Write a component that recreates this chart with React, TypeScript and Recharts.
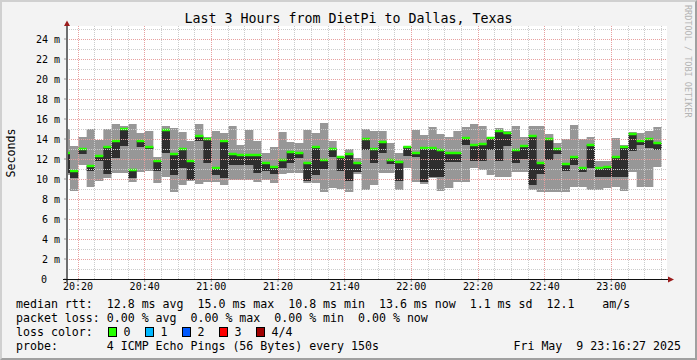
import React from 'react';
import { ComposedChart, Area, XAxis, YAxis, ReferenceLine } from 'recharts';

// sample times: minutes after 20:00, one probe round every 150 s
const FIRST_SAMPLE = 15.1;
const SAMPLE_STEP = 2.5;

// rtt in ms, one entry per probe round
const maxRtt = [
  15.0, 13.3, 14.2, 15.0, 13.9, 15.0, 15.5, 15.3, 15.5, 14.6,
  14.8, 12.2, 15.3, 15.1, 14.7, 13.8, 15.5, 14.2, 14.8, 14.6,
  15.3, 13.4, 14.9, 13.8, 12.6, 13.2, 14.7, 13.7, 13.6, 14.9,
  14.6, 15.6, 13.8, 12.3, 13.0, 12.1, 15.0, 14.8, 14.8, 13.6,
  12.6, 13.3, 14.9, 14.4, 15.2, 14.5, 14.2, 14.8, 15.2, 15.5,
  15.3, 14.2, 15.1, 14.8, 15.3, 14.2, 15.3, 15.3, 14.5, 13.6,
  14.0, 15.4, 14.0, 14.2, 11.8, 11.8, 14.1, 13.4, 14.7, 14.6,
  14.8, 15.2,
];
const medianRtt = [
  12.6, 10.8, 13.0, 11.3, 12.3, 13.2, 13.8, 15.0, 10.9, 13.8,
  13.2, 11.8, 14.9, 12.5, 13.0, 11.8, 14.3, 14.0, 11.1, 13.8,
  12.5, 12.4, 12.4, 12.4, 11.6, 11.2, 11.9, 12.7, 12.6, 11.6,
  13.2, 11.9, 13.0, 12.2, 12.5, 11.6, 14.0, 13.0, 13.7, 11.9,
  11.7, 13.2, 12.6, 13.1, 13.1, 12.9, 12.6, 12.6, 14.1, 13.4,
  13.5, 14.1, 14.8, 14.6, 12.9, 13.3, 14.3, 11.6, 14.0, 13.0,
  11.5, 12.2, 11.1, 13.4, 11.1, 11.2, 12.2, 13.2, 14.5, 13.8,
  14.0, 13.6,
];
const lowRtt = [
  10.6, 10.1, 12.5, 10.8, 11.8, 10.5, 12.1, 13.3, 10.1, 13.2,
  13.0, 10.8, 12.6, 10.4, 11.1, 9.9, 13.8, 11.6, 10.4, 10.1,
  11.4, 11.4, 11.4, 10.6, 10.8, 10.5, 11.1, 11.6, 12.1, 9.8,
  10.4, 11.0, 12.2, 10.8, 9.8, 10.7, 12.9, 11.6, 12.6, 11.5,
  9.8, 12.3, 12.2, 9.7, 10.2, 10.2, 11.7, 11.7, 13.4, 11.8,
  11.8, 12.9, 11.8, 13.3, 11.6, 12.0, 9.4, 10.5, 11.9, 12.5,
  10.8, 11.4, 10.7, 11.1, 10.2, 10.2, 10.2, 10.2, 12.8, 13.4,
  13.1, 12.9,
];
const minRtt = [
  10.4, 8.8, 11.4, 9.2, 9.8, 10.1, 10.6, 10.6, 9.7, 10.7,
  10.8, 9.6, 10.2, 8.7, 9.4, 9.8, 9.5, 9.7, 9.7, 9.4,
  9.9, 9.9, 9.9, 9.7, 9.9, 9.6, 10.5, 10.6, 10.6, 9.6,
  9.6, 8.7, 9.1, 9.0, 8.7, 10.5, 8.9, 9.4, 10.6, 10.6,
  8.9, 11.1, 9.7, 9.5, 10.1, 8.8, 9.1, 9.7, 9.7, 11.1,
  10.9, 10.4, 10.2, 10.2, 10.7, 10.7, 8.9, 8.7, 8.7, 8.7,
  8.7, 9.2, 9.2, 8.9, 8.9, 9.1, 9.2, 8.8, 10.7, 9.2,
  9.2, 11.2,
];

const timeTicks = [20, 40, 60, 80, 100, 120, 140, 160, 180];
const timeLabels = ['20:20', '20:40', '21:00', '21:20', '21:40', '22:00', '22:20', '22:40', '23:00'];
const rttTicks = [0, 2, 4, 6, 8, 10, 12, 14, 16, 18, 20, 22, 24];

const lossLabels = ['0', '1', '2', '3', '4/4'];
const lossColors = ['#26ff00', '#00b8ff', '#0059ff', '#ff0000', '#a00000'];

const FONT = '"DejaVu Sans Mono", monospace';

const rows: any[] = medianRtt.map((med, i) => ({
  t: FIRST_SAMPLE + i * SAMPLE_STEP,
  smoke: [minRtt[i], maxRtt[i]],
  core: [lowRtt[i], med],
  median: [med - 0.12, med + 0.12],
}));
// stepAfter needs a closing point for the last round
rows.push({ ...rows[rows.length - 1], t: FIRST_SAMPLE + rows.length * SAMPLE_STEP });

const minorTimes: number[] = [];
for (let t = 25; t <= 195; t += 5) if (!timeTicks.includes(t)) minorTimes.push(t);
const minorRtt: number[] = [];
for (let v = 1; v <= 25; v += 2) minorRtt.push(v);
const majorRtt = rttTicks.filter((v) => v > 0);

const YTick = ({ x, y, payload }: any) => (
  <text
    x={payload.value === 0 ? x - 13 : x}
    y={y}
    dy="0.355em"
    textAnchor="end"
    fontSize={10}
    fontFamily={FONT}
    fill="#000"
  >
    {payload.value === 0 ? '0' : `${payload.value} m`}
  </text>
);

const Txt = ({ x, y, size = 11.6, children, style }: any) => (
  <div
    style={{
      position: 'absolute',
      left: x,
      top: y - 8,
      lineHeight: '16px',
      fontSize: size,
      whiteSpace: 'pre',
      color: '#000',
      ...style,
    }}
  >
    {children}
  </div>
);

export default function App() {
  return (
    <div
      style={{
        position: 'absolute',
        left: 0,
        top: 0,
        width: 697,
        height: 360,
        background: '#f3f3f3',
        fontFamily: FONT,
        overflow: 'hidden',
      }}
    >
      {/* plot canvas */}
      <div style={{ position: 'absolute', left: 67, top: 26, width: 600, height: 253, background: '#fff' }} />

      <div style={{ position: 'absolute', left: 0, top: 0 }}>
        <ComposedChart width={697} height={360} data={rows} margin={{ top: 26, right: 30, bottom: 61, left: 27 }}>
          <XAxis
            dataKey="t"
            type="number"
            domain={[16.7, 196.7]}
            allowDataOverflow
            ticks={timeTicks}
            interval={0}
            tickFormatter={(v: number) => timeLabels[timeTicks.indexOf(v)]}
            height={20}
            axisLine={false}
            tickLine={{ stroke: '#999' }}
            tickSize={3}
            tickMargin={1}
            tick={{ fontSize: 10, fill: '#000', fontFamily: FONT }}
          />
          <YAxis
            type="number"
            domain={[0, 25.3]}
            ticks={rttTicks}
            interval={0}
            width={40}
            axisLine={false}
            tickLine={{ stroke: '#999' }}
            tickSize={3}
            tickMargin={4}
            tick={<YTick />}
          />
          <Area
            type="stepAfter"
            dataKey="smoke"
            fill="#979797"
            fillOpacity={1}
            stroke="none"
            dot={false}
            activeDot={false}
            isAnimationActive={false}
          />
          <Area
            type="stepAfter"
            dataKey="core"
            fill="#2e2e2e"
            fillOpacity={1}
            stroke="none"
            dot={false}
            activeDot={false}
            isAnimationActive={false}
          />
          <Area
            type="stepAfter"
            dataKey="median"
            fill="#26ff00"
            fillOpacity={1}
            stroke="none"
            dot={false}
            activeDot={false}
            isAnimationActive={false}
          />
          {minorRtt.map((v) => (
            <ReferenceLine key={`my${v}`} y={v} stroke="#cccccc" strokeDasharray="1 1" shapeRendering="crispEdges" />
          ))}
          {minorTimes.map((t) => (
            <ReferenceLine key={`mx${t}`} x={t} stroke="#cccccc" strokeDasharray="1 1" shapeRendering="crispEdges" />
          ))}
          {majorRtt.map((v) => (
            <ReferenceLine key={`My${v}`} y={v} stroke="#e8a0a0" strokeDasharray="1 1" shapeRendering="crispEdges" />
          ))}
          {timeTicks.map((t) => (
            <ReferenceLine key={`Mx${t}`} x={t} stroke="#e8a0a0" strokeDasharray="1 1" shapeRendering="crispEdges" />
          ))}
        </ComposedChart>
      </div>

      {/* axes with arrows */}
      <svg width={697} height={360} style={{ position: 'absolute', left: 0, top: 0, pointerEvents: 'none' }}>
        <line x1={67} y1={283} x2={67} y2={25} stroke="#6e6e6e" strokeWidth={2} />
        <line x1={63} y1={279.5} x2={669} y2={279.5} stroke="#111" strokeWidth={1} />
        <polygon points="64,26 67,20.5 70,26" fill="#9b1c1c" />
        <polygon points="668,276.5 674,279.5 668,282.5" fill="#9b1c1c" />
      </svg>

      {/* frame */}
      <div
        style={{
          position: 'absolute',
          left: 0,
          top: 0,
          width: 697,
          height: 360,
          boxSizing: 'border-box',
          borderTop: '2px solid #d0d0d0',
          borderLeft: '2px solid #d0d0d0',
          borderRight: '2px solid #a0a0a0',
          borderBottom: '2px solid #a0a0a0',
          pointerEvents: 'none',
        }}
      />

      <div
        style={{
          position: 'absolute',
          left: 0,
          top: 11,
          width: 697,
          textAlign: 'center',
          fontSize: 13.3,
          lineHeight: '16px',
          color: '#000',
        }}
      >
        Last 3 Hours from DietPi to Dallas, Texas
      </div>

      <div
        style={{
          position: 'absolute',
          left: 11 - 40,
          top: 153 - 8,
          width: 80,
          lineHeight: '16px',
          textAlign: 'center',
          fontSize: 11.6,
          transform: 'rotate(-90deg)',
          color: '#000',
        }}
      >
        Seconds
      </div>

      <div
        style={{
          position: 'absolute',
          left: 683,
          top: 5,
          writingMode: 'vertical-rl',
          fontSize: 8.5,
          color: '#b4b4b4',
          whiteSpace: 'pre',
        }}
      >
        RRDTOOL / TOBI OETIKER
      </div>

      {/* legend */}
      <Txt x={16} y={304}>{'median rtt:  12.8 ms avg  15.0 ms max  10.8 ms min  13.6 ms now  1.1 ms sd  12.1    am/s'}</Txt>
      <Txt x={16} y={318}>{'packet loss: 0.00 % avg  0.00 % max  0.00 % min  0.00 % now'}</Txt>

      <Txt x={16} y={332}>loss color:</Txt>
      {lossLabels.map((label, i) => (
        <React.Fragment key={label}>
          <div
            style={{
              position: 'absolute',
              left: 108 + i * 37,
              top: 327,
              width: 7,
              height: 8,
              background: lossColors[i],
              border: '1px solid #000',
            }}
          />
          <Txt x={123.5 + i * 37} y={332}>{label}</Txt>
        </React.Fragment>
      ))}

      <Txt x={16} y={346}>{'probe:       4 ICMP Echo Pings (56 Bytes) every 150s'}</Txt>
      <Txt x={0} y={346} style={{ left: 'auto', right: 16 }}>{'Fri May  9 23:16:27 2025'}</Txt>
    </div>
  );
}
